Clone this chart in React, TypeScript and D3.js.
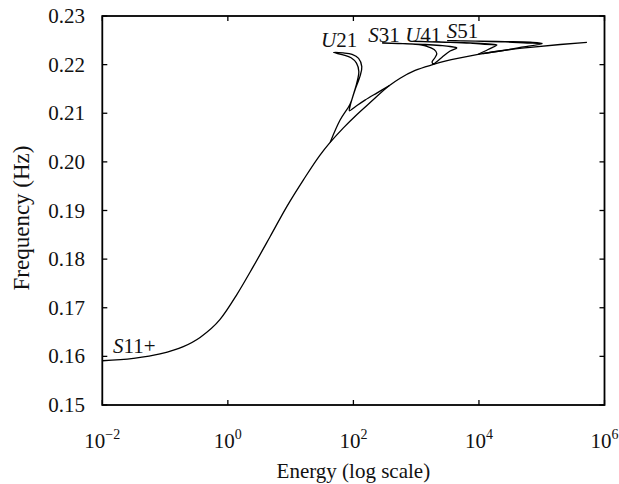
import React from "react";
import * as d3 from "d3";

// ---- data (energy, frequency in Hz) ----
const BACKBONE_E = [0.01, 0.0312, 0.0832, 0.195, 0.361, 0.752, 1.39, 2.55, 4.7, 8.69, 16.0, 29.4, 42.6, 69.3, 113, 185, 375, 555, 962, 1880, 2890, 9710, 31400, 65500, 197000, 525000];
const BACKBONE_F = [0.1591, 0.1596, 0.1605, 0.162, 0.1639, 0.1676, 0.1727, 0.1785, 0.1846, 0.1908, 0.1963, 0.2014, 0.204, 0.207, 0.2097, 0.2122, 0.2157, 0.2172, 0.2188, 0.22003, 0.2207, 0.2221, 0.22311, 0.22356, 0.22414, 0.22459];

const U21_E = [42.6, 61.4, 88.7, 106, 128, 136, 121, 95.3, 68.5, 48.3, 68.5, 91.8, 112, 122, 113, 97.7, 88.7, 86.3, 106, 153, 239, 375];
const U21_F = [0.204, 0.2086, 0.2119, 0.2148, 0.2177, 0.2196, 0.2213, 0.2221, 0.2224, 0.2225, 0.222, 0.2214, 0.2203, 0.2186, 0.2162, 0.2134, 0.2115, 0.2105, 0.2113, 0.2127, 0.2142, 0.2157];

const S31_E = [1880, 2560, 3470, 4440, 3470, 2410, 1390, 801, 462, 287, 515, 962, 1440, 1930, 2130, 2000, 1790, 1880];
const S31_F = [0.22003, 0.22147, 0.2228, 0.22342, 0.22373, 0.22393, 0.22414, 0.22428, 0.22439, 0.22445, 0.22434, 0.22418, 0.22383, 0.22311, 0.22229, 0.22147, 0.22054, 0.22003];

const U41_E = [9710, 14000, 19300, 14000, 7240, 2890, 1390, 894, 1670, 3470, 7240, 11200, 19300];
const U41_F = [0.2221, 0.22311, 0.22404, 0.22428, 0.22449, 0.22461, 0.22474, 0.2248, 0.22469, 0.22459, 0.22441, 0.2242, 0.22404];

const S51_E = [11700, 21800, 45400, 102000, 65500, 26100, 10400, 5010, 3110, 8690, 26100, 58600, 102000];
const S51_F = [0.22229, 0.2228, 0.22352, 0.22434, 0.22461, 0.22474, 0.22484, 0.2249, 0.22494, 0.22482, 0.22467, 0.22445, 0.22434];

const X_TICKS = [1e-2, 1e0, 1e2, 1e4, 1e6];
const X_TICK_EXP = ["\u22122", "0", "2", "4", "6"];
const Y_TICKS = [0.15, 0.16, 0.17, 0.18, 0.19, 0.2, 0.21, 0.22, 0.23];

const BRANCH_LABELS = [
  { letter: "S", rest: "11+", e: 0.0148, f: 0.16069 },
  { letter: "U", rest: "21", e: 30.5, f: 0.22362 },
  { letter: "S", rest: "31", e: 173, f: 0.22471 },
  { letter: "U", rest: "41", e: 667, f: 0.22471 },
  { letter: "S", rest: "51", e: 3080, f: 0.22541 },
];

const W = 619;
const H = 484;
const M = { left: 102.3, right: 604.5, top: 16, bottom: 405 };
const FONT = "Liberation Serif, Times New Roman, DejaVu Serif, serif";
const INK = "#111";

export default function App() {
  const x = d3.scaleLog().domain([1e-2, 1e6]).range([M.left, M.right]);
  const y = d3.scaleLinear().domain([0.15, 0.23]).range([M.bottom, M.top]);

  const mk = (es: number[], fs: number[]) => es.map((e, i) => [e, fs[i]] as [number, number]);
  const smooth = d3
    .line<[number, number]>()
    .x((d) => x(d[0]))
    .y((d) => y(d[1]))
    .curve(d3.curveCatmullRom.alpha(0.5));
  const mono = d3
    .line<[number, number]>()
    .x((d) => x(d[0]))
    .y((d) => y(d[1]))
    .curve(d3.curveMonotoneX);

  const tongues = [mk(U21_E, U21_F), mk(S31_E, S31_F), mk(U41_E, U41_F), mk(S51_E, S51_F)];

  const tickLen = 5;
  const textStyle = { fontFamily: FONT };

  return (
    <svg
      width={W}
      height={H}
      style={{ position: "fixed", left: 0, top: 0, background: "#fff", fontFamily: FONT }}
    >
      <rect x={0} y={0} width={W} height={H} fill="#fff" />
      <path d={mono(mk(BACKBONE_E, BACKBONE_F)) || ""} fill="none" stroke="#000" strokeWidth={1.3} />
      {tongues.map((s, i) => (
        <path key={i} d={smooth(s) || ""} fill="none" stroke="#000" strokeWidth={1.3} />
      ))}
      {/* frame */}
      <rect
        x={M.left}
        y={M.top}
        width={M.right - M.left}
        height={M.bottom - M.top}
        fill="none"
        stroke="#000"
        strokeWidth={1.8}
      />
      {/* x ticks */}
      {X_TICKS.map((t, i) => (
        <g key={"xt" + i}>
          <line x1={x(t)} x2={x(t)} y1={M.bottom} y2={M.bottom - tickLen} stroke="#000" strokeWidth={1.3} />
          <line x1={x(t)} x2={x(t)} y1={M.top} y2={M.top + tickLen} stroke="#000" strokeWidth={1.3} />
          <text x={x(t)} y={448} textAnchor="middle" fontSize={21} fill={INK} style={textStyle}>
            10
            <tspan dy={-9} fontSize={14}>
              {X_TICK_EXP[i]}
            </tspan>
          </text>
        </g>
      ))}
      {/* y ticks */}
      {Y_TICKS.map((t, i) => (
        <g key={"yt" + i}>
          <line x1={M.left} x2={M.left + tickLen} y1={y(t)} y2={y(t)} stroke="#000" strokeWidth={1.3} />
          <line x1={M.right} x2={M.right - tickLen} y1={y(t)} y2={y(t)} stroke="#000" strokeWidth={1.3} />
          <text x={85} y={y(t) + 7} textAnchor="end" fontSize={21} fill={INK} style={textStyle}>
            {t.toFixed(2)}
          </text>
        </g>
      ))}
      {/* branch labels */}
      {BRANCH_LABELS.map((b, i) => (
        <text key={"bl" + i} x={x(b.e)} y={y(b.f)} fontSize={21} fill={INK} style={textStyle}>
          <tspan fontStyle="italic">{b.letter}</tspan>
          {b.rest}
        </text>
      ))}
      {/* axis titles */}
      <text x={(M.left + M.right) / 2} y={478} textAnchor="middle" fontSize={21} fill={INK} style={textStyle}>
        Energy (log scale)
      </text>
      <text
        transform={`translate(29, ${218}) rotate(-90)`}
        textAnchor="middle"
        fontSize={23}
        fill={INK}
        style={textStyle}
      >
        Frequency (Hz)
      </text>
    </svg>
  );
}
